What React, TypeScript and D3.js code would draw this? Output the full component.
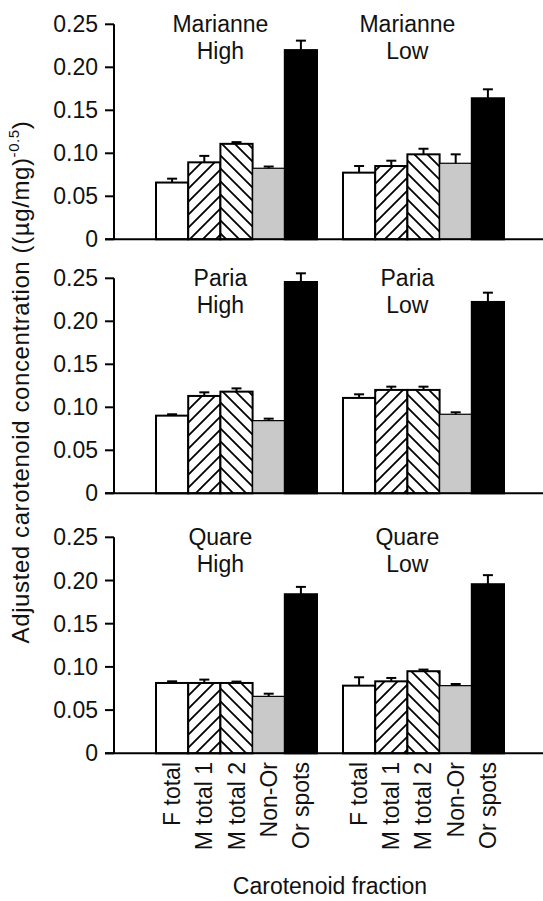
import React from "react";
import * as d3 from "d3";

const fractions = ["F total", "M total 1", "M total 2", "Non-Or", "Or spots"];
const populations = ["Marianne", "Paria", "Quare"];
const treatments = ["High", "Low"];

const tickValues = [0, 0.05, 0.1, 0.15, 0.2, 0.25];
const tickLabels = ["0", "0.05", "0.10", "0.15", "0.20", "0.25"];

// means per population / treatment (order of fractions)
const marianneHigh = [0.066, 0.0895, 0.111, 0.0826, 0.22];
const marianneHighSE = [0.0045, 0.0075, 0.002, 0.002, 0.011];
const marianneLow = [0.0775, 0.0852, 0.0988, 0.0884, 0.164];
const marianneLowSE = [0.0077, 0.0062, 0.0065, 0.0104, 0.0104];
const pariaHigh = [0.0903, 0.1132, 0.1182, 0.0845, 0.2457];
const pariaHighSE = [0.0016, 0.0042, 0.0038, 0.0023, 0.0101];
const pariaLow = [0.1109, 0.1202, 0.1202, 0.0919, 0.2225];
const pariaLowSE = [0.0042, 0.0038, 0.0038, 0.0023, 0.0108];
const quareHigh = [0.0814, 0.0814, 0.0814, 0.0659, 0.1841];
const quareHighSE = [0.0019, 0.0039, 0.0016, 0.0031, 0.0085];
const quareLow = [0.0783, 0.0833, 0.095, 0.0783, 0.1957];
const quareLowSE = [0.0097, 0.0039, 0.0019, 0.0019, 0.0105];

const W = 543;
const H = 901;
const FONT = "'Liberation Sans', Arial, Helvetica, sans-serif";

export default function App() {
  const series = [
    [
      { m: marianneHigh, se: marianneHighSE },
      { m: marianneLow, se: marianneLowSE },
    ],
    [
      { m: pariaHigh, se: pariaHighSE },
      { m: pariaLow, se: pariaLowSE },
    ],
    [
      { m: quareHigh, se: quareHighSE },
      { m: quareLow, se: quareLowSE },
    ],
  ];
  const panelRanges: [number, number][] = [
    [239.3, 24.3],
    [493.3, 278.3],
    [753.3, 537.3],
  ];
  const axisX = 114;
  const groupX = d3.scaleBand<string>().domain(treatments).range([156, 504]).paddingInner(0.139).paddingOuter(0);
  const barX = d3.scaleBand<string>().domain(fractions).range([0, groupX.bandwidth()]).padding(0);
  const bw = barX.bandwidth();

  const fills = ["#ffffff", "url(#hatchA)", "url(#hatchB)", "#c9c9c9", "#000000"];
  const fs = 23;

  return (
    <svg
      width={W}
      height={H}
      style={{ position: "absolute", left: 0, top: 0, background: "#fff" }}
      fontFamily={FONT}
    >
      <defs>
        <pattern id="hatchA" patternUnits="userSpaceOnUse" width={13} height={13}>
          <rect width={13} height={13} fill="#fff" />
          <path d="M-3,3 L3,-3 M0,13 L13,0 M10,16 L16,10" stroke="#000" strokeWidth={1.8} />
        </pattern>
        <pattern id="hatchB" patternUnits="userSpaceOnUse" width={13} height={13}>
          <rect width={13} height={13} fill="#fff" />
          <path d="M-3,10 L3,16 M0,0 L13,13 M10,-3 L16,3" stroke="#000" strokeWidth={1.8} />
        </pattern>
      </defs>
      <rect width={W} height={H} fill="#fff" />
      {panelRanges.map((rng, pi) => {
        const y = d3.scaleLinear().domain([0, 0.25]).range(rng);
        return (
          <g key={pi}>
            {treatments.map((t, gi) => {
              const gx = groupX(t)!;
              const d = series[pi][gi];
              return (
                <g key={t}>
                  {fractions.map((f, i) => {
                    const x0 = gx + barX(f)!;
                    const top = y(d.m[i]);
                    return (
                      <rect
                        key={f}
                        x={x0}
                        y={top}
                        width={bw}
                        height={y(0) - top}
                        fill={fills[i]}
                        stroke="#000"
                        strokeWidth={i === 3 ? 1.2 : 2}
                      />
                    );
                  })}
                  {fractions.map((f, i) => {
                    const cx = gx + barX(f)! + bw / 2;
                    const top = y(d.m[i]);
                    const et = y(d.m[i] + d.se[i]);
                    return (
                      <g key={"e" + f} stroke="#000" strokeWidth={2}>
                        <line x1={cx} x2={cx} y1={top} y2={et} />
                        <line x1={cx - 5} x2={cx + 5} y1={et} y2={et} />
                      </g>
                    );
                  })}
                  <text
                    x={gx + barX(fractions[2])!}
                    y={rng[1] + 8}
                    textAnchor="middle"
                    fontSize={fs}
                    fill="#111"
                  >
                    {populations[pi]}
                  </text>
                  <text
                    x={gx + barX(fractions[2])!}
                    y={rng[1] + 35}
                    textAnchor="middle"
                    fontSize={fs}
                    fill="#111"
                  >
                    {t}
                  </text>
                </g>
              );
            })}
            {/* y axis */}
            <line x1={axisX} x2={axisX} y1={y(0.25)} y2={y(0)} stroke="#000" strokeWidth={2} />
            <line x1={105} x2={W} y1={y(0)} y2={y(0)} stroke="#000" strokeWidth={2} />
            {tickValues.map((v, ti) => (
              <g key={v} transform={`translate(0,${y(v)})`}>
                <line x1={105} x2={axisX} stroke="#000" strokeWidth={2} />
                <text x={98} dy="0.35em" textAnchor="end" fontSize={fs} fill="#111">
                  {tickLabels[ti]}
                </text>
              </g>
            ))}
          </g>
        );
      })}
      {/* x labels */}
      {treatments.map((t) =>
        fractions.map((f) => {
          const cx = groupX(t)! + barX(f)! + bw / 2 + 8;
          return (
            <text
              key={t + f}
              transform={`translate(${cx},762) rotate(-90)`}
              textAnchor="end"
              fontSize={fs}
              fill="#111"
            >
              {f}
            </text>
          );
        })
      )}
      <text x={330} y={894} textAnchor="middle" fontSize={fs} fill="#111">
        Carotenoid fraction
      </text>
      <text
        transform={`translate(29,382) rotate(-90)`}
        textAnchor="middle"
        fontSize={24}
        letterSpacing={0.6}
        fill="#111"
      >
        Adjusted carotenoid concentration ((µg/mg)
        <tspan fontSize={15} dy={-10}>-0.5</tspan>
        <tspan dy={10}>)</tspan>
      </text>
    </svg>
  );
}
